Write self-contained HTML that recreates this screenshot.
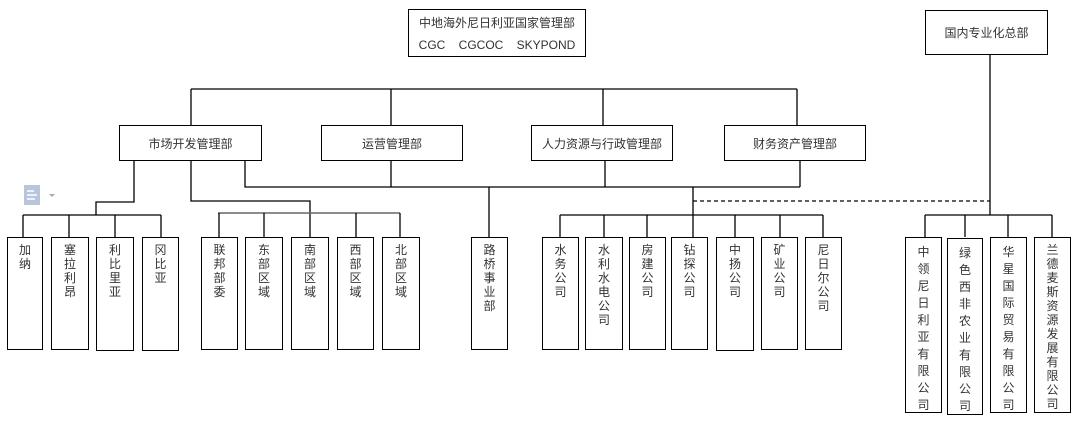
<!DOCTYPE html>
<html><head><meta charset="utf-8"><style>
body{margin:0;background:#fff;width:1081px;height:427px;position:relative;overflow:hidden;font-family:"Liberation Sans","Noto Sans CJK SC",sans-serif;color:#333}
.b{position:absolute;border:1.3px solid #000;box-sizing:border-box;background:#fff;font-size:12px;text-align:center}
.h{display:flex;align-items:center;justify-content:center}
.v{line-height:14px;padding-top:5px}
.r{line-height:17px;padding-top:6px}
svg{position:absolute;left:0;top:0}
</style></head><body>
<svg width="1081" height="427" stroke="#000" stroke-width="1.3" fill="none">
<path d="M191 89H797M191 89V125M391 89V125M603 89V125M797 89V125"/>
<path d="M134 161V202H96V215M23 215H161M23 215V237M69 215V237M115 215V237M161 215V237"/>
<path d="M191 161V201H310V237"/>
<path d="M218 213H400" stroke="#666" stroke-width="1.6"/>
<path d="M219 213V237M264 213V237M356 213V237M400 213V237"/>
<path d="M245 161V187H800M391 161V187M605 161V187M800 161V187M489 187V237"/>
<path d="M693 187V237M560 215H823M560 215V237M604 215V237M647 215V237M735 215V237M780 215V237M823 215V237"/>
<path d="M693 201H990" stroke-dasharray="4,3"/>
<path d="M990 55V215M925 215H1052M925 215V237M965 215V237M1008 215V237M1052 215V237"/>
</svg>
<div class="b" style="left:408px;top:9px;width:178px;height:48px;padding-top:2px;line-height:22px">中地海外尼日利亚国家管理部<br>CGC&nbsp;&nbsp;&nbsp; CGCOC&nbsp;&nbsp;&nbsp; SKYPOND</div>
<div class="b h" style="left:925px;top:10px;width:123px;height:45px">国内专业化总部</div>
<div class="b h" style="left:119px;top:125px;width:143px;height:36px">市场开发管理部</div>
<div class="b h" style="left:321px;top:125px;width:142px;height:36px">运营管理部</div>
<div class="b h" style="left:531px;top:125px;width:142px;height:36px">人力资源与行政管理部</div>
<div class="b h" style="left:724px;top:125px;width:142px;height:36px">财务资产管理部</div>
<svg width="60" height="30" style="left:20px;top:182px"><rect x="4" y="3" width="16" height="20" fill="#b8c6dd"/><path d="M7 9h7M7 13h10M7 17h8" stroke="#fff" stroke-width="1.5"/><path d="M29 12l3 3 3-3z" fill="#aaa"/></svg>
<div class="b v" style="left:7px;top:237px;width:36px;height:113px">加<br>纳</div>
<div class="b v" style="left:51px;top:237px;width:38px;height:113px">塞<br>拉<br>利<br>昂</div>
<div class="b v" style="left:96px;top:237px;width:38px;height:114px">利<br>比<br>里<br>亚</div>
<div class="b v" style="left:142px;top:237px;width:37px;height:114px">冈<br>比<br>亚</div>
<div class="b v" style="left:201px;top:237px;width:37px;height:113px">联<br>邦<br>部<br>委</div>
<div class="b v" style="left:245px;top:237px;width:38px;height:113px">东<br>部<br>区<br>域</div>
<div class="b v" style="left:291px;top:237px;width:38px;height:113px">南<br>部<br>区<br>域</div>
<div class="b v" style="left:337px;top:237px;width:37px;height:113px">西<br>部<br>区<br>域</div>
<div class="b v" style="left:382px;top:237px;width:38px;height:113px">北<br>部<br>区<br>域</div>
<div class="b v" style="left:471px;top:237px;width:37px;height:113px">路<br>桥<br>事<br>业<br>部</div>
<div class="b v" style="left:542px;top:237px;width:37px;height:113px">水<br>务<br>公<br>司</div>
<div class="b v" style="left:585px;top:237px;width:38px;height:113px">水<br>利<br>水<br>电<br>公<br>司</div>
<div class="b v" style="left:629px;top:237px;width:37px;height:113px">房<br>建<br>公<br>司</div>
<div class="b v" style="left:671px;top:237px;width:37px;height:113px">钻<br>探<br>公<br>司</div>
<div class="b v" style="left:716px;top:237px;width:38px;height:114px">中<br>扬<br>公<br>司</div>
<div class="b v" style="left:761px;top:237px;width:37px;height:113px">矿<br>业<br>公<br>司</div>
<div class="b v" style="left:805px;top:237px;width:37px;height:113px">尼<br>日<br>尔<br>公<br>司</div>
<div class="b r" style="left:905px;top:237px;width:37px;height:176px">中<br>领<br>尼<br>日<br>利<br>亚<br>有<br>限<br>公<br>司</div>
<div class="b r" style="left:947px;top:238px;width:36px;height:177px">绿<br>色<br>西<br>非<br>农<br>业<br>有<br>限<br>公<br>司</div>
<div class="b r" style="left:990px;top:237px;width:37px;height:176px">华<br>星<br>国<br>际<br>贸<br>易<br>有<br>限<br>公<br>司</div>
<div class="b r" style="left:1034px;top:237px;width:37px;height:176px;line-height:14px;padding-top:5px">兰<br>德<br>麦<br>斯<br>资<br>源<br>发<br>展<br>有<br>限<br>公<br>司</div>
</body></html>
